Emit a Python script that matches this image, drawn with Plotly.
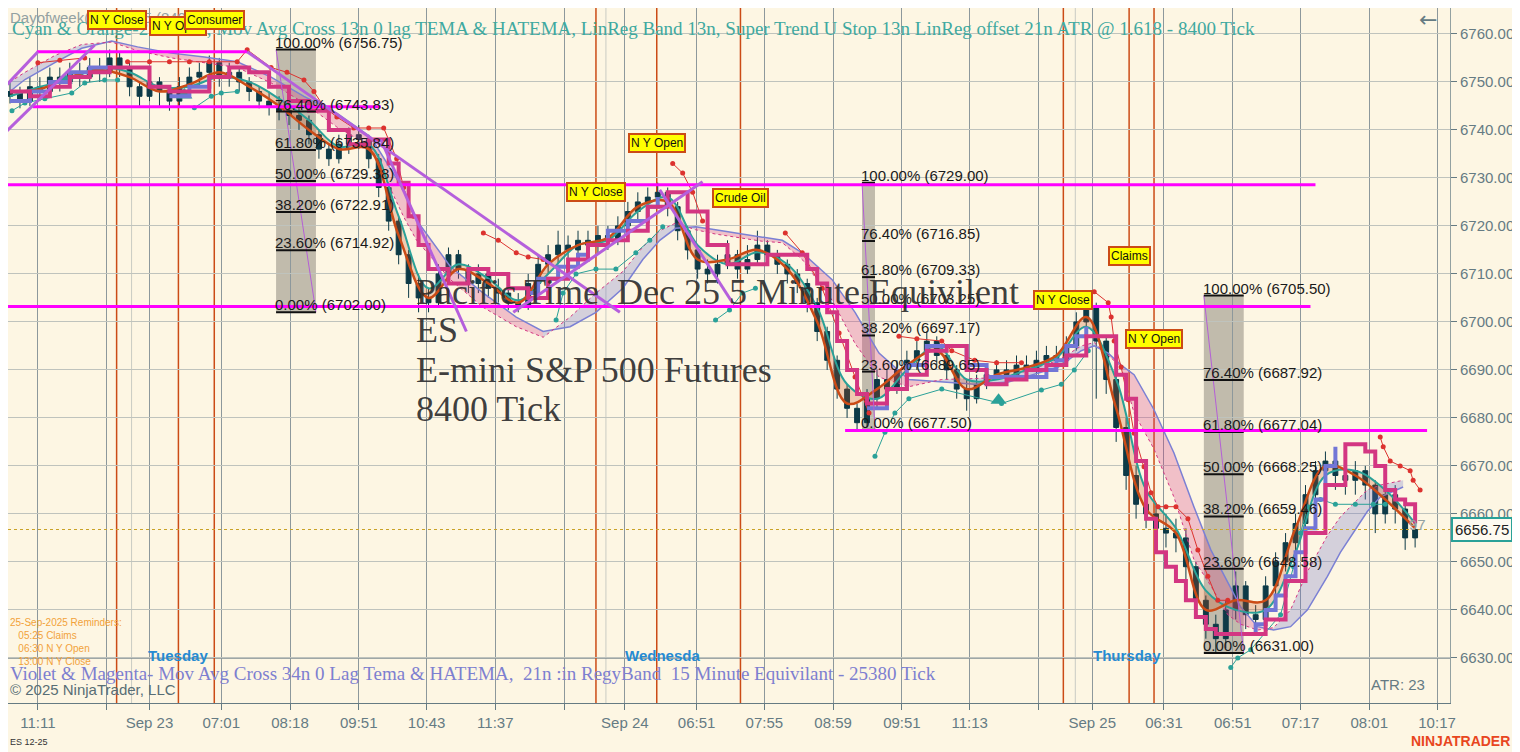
import plotly.graph_objects as go

# ---------------- data ----------------
# ES 12-25, 8400 tick bars (one bar every ~10 px in the picture)
first_open = 6747
close = [
    6748, 6746, 6749, 6748, 6751, 6750, 6752, 6751, 6753, 6752,
    6755, 6753, 6749, 6747, 6750, 6748, 6746, 6749, 6751, 6752,
    6754, 6751, 6752, 6750, 6748, 6746, 6745, 6744, 6743, 6742,
    6739, 6736, 6734, 6737, 6739, 6738, 6734, 6728, 6721, 6714,
    6708, 6705, 6704, 6710, 6714, 6711, 6708, 6710, 6707, 6706,
    6704, 6703, 6708, 6712, 6714, 6716, 6715, 6717, 6716, 6718,
    6717, 6720, 6723, 6725, 6726, 6727, 6724, 6719, 6715, 6711,
    6710, 6712, 6714, 6711, 6713, 6716, 6714, 6712, 6710, 6708,
    6704, 6698, 6692, 6686, 6682, 6679, 6684, 6688, 6686, 6690,
    6692, 6694, 6696, 6693, 6690, 6686, 6684, 6687, 6689, 6690,
    6689, 6691, 6690, 6692, 6693, 6692, 6695, 6700, 6703, 6696,
    6688, 6678, 6668, 6662, 6660, 6657, 6656, 6655, 6649, 6642,
    6637, 6634, 6640, 6645, 6639, 6638, 6645, 6650, 6654, 6658,
    6664, 6669, 6671, 6668, 6667, 6669, 6666, 6660, 6664, 6661,
    6655, 6656.75,
]
high = [
    6750, 6749, 6751, 6751, 6753, 6753, 6754, 6754, 6755, 6755,
    6756.75, 6756, 6754, 6750, 6752, 6751, 6749, 6751, 6753, 6754,
    6755.5, 6755, 6754, 6753, 6751, 6749, 6748, 6747, 6746, 6745,
    6743, 6740, 6737, 6739, 6740.5, 6741, 6739, 6735, 6729, 6722,
    6715, 6710, 6707, 6712, 6715.5, 6715, 6712, 6712, 6711, 6709,
    6708, 6706, 6710, 6714, 6716, 6719, 6718, 6719, 6719, 6720,
    6720, 6722, 6725, 6727, 6728, 6729, 6728, 6725, 6720, 6716,
    6713, 6714, 6717, 6715, 6716, 6719, 6717, 6715, 6713, 6711,
    6709, 6705, 6699, 6693, 6687, 6683, 6686, 6690, 6690, 6692,
    6694, 6696, 6698, 6697, 6694, 6691, 6688, 6689, 6691, 6692,
    6692, 6693, 6693, 6694, 6695, 6695, 6697, 6702, 6705.5, 6704,
    6697, 6689, 6680, 6670, 6665, 6662, 6660, 6659, 6657, 6650,
    6643, 6639, 6642, 6648, 6646, 6641, 6647, 6652, 6656, 6660,
    6666, 6671, 6673, 6672, 6670, 6671, 6670, 6667, 6666, 6666,
    6662, 6658,
]
low = [
    6745.5, 6744.5, 6745, 6746, 6747, 6748, 6749, 6749, 6750, 6750,
    6751, 6751, 6747, 6745, 6746, 6745, 6744, 6745, 6748, 6749,
    6750, 6749, 6749, 6748, 6746, 6744.5, 6743, 6742, 6741, 6740,
    6737, 6734, 6732.5, 6733, 6735, 6736, 6732, 6726, 6719, 6712,
    6705, 6702, 6702, 6703, 6708, 6709, 6706, 6706, 6705, 6704,
    6702.5, 6702, 6702.5, 6707, 6710, 6712, 6713, 6713, 6714, 6714,
    6715, 6716, 6719, 6721, 6723, 6724, 6722, 6717, 6713, 6709,
    6708, 6708, 6711, 6709, 6710, 6712, 6712, 6710, 6708, 6706,
    6702, 6696, 6690, 6684, 6680, 6677.5, 6678, 6682, 6684, 6685,
    6688, 6690, 6692, 6691, 6688, 6684, 6681.5, 6683, 6686, 6688,
    6687, 6688, 6688, 6689, 6690, 6690, 6691, 6694, 6698, 6684,
    6685, 6675, 6665, 6659, 6657, 6654, 6653, 6652, 6646, 6639,
    6634, 6631, 6632, 6638, 6636, 6635, 6636, 6643, 6648, 6652,
    6656, 6662, 6667, 6665, 6664, 6664, 6663, 6656, 6658, 6658,
    6652.5, 6653,
]
open_ = [first_open] + close[:-1]
bar_x = list(range(len(close)))
last_price = 6656.75

# x axis labels (bar positions)
tick_pos = [2.8, 9.7, 14.0, 21.2, 28.1, 35.0, 41.8, 48.7, 55.6, 61.7, 68.9, 75.7,
            82.6, 89.5, 96.3, 103.2, 108.6, 115.8, 122.7, 129.5, 136.4, 143.2]
tick_txt = ["11:11", "", "Sep 23", "07:01", "08:18", "09:51", "10:43", "11:37", "",
            "Sep 24", "06:51", "07:55", "08:59", "09:51", "11:13", "", "Sep 25",
            "06:31", "06:51", "07:17", "08:01", "10:17"]
faint_grid = [12.2, 59.8, 106.9]

# slow LinReg band: violet (slow) and pink dotted (fast) edges
band_x = [0, 1.5, 4.5, 7.2, 10.2, 12.8, 16.2, 19.5, 22.8, 26.2, 29.5, 32.8, 36.2,
          39.5, 40.8, 44.2, 47.5, 50.8, 53.5, 56.2, 58.8, 61.5, 63.5, 65.2, 66.8,
          68.8, 70.8, 75.5, 77.5, 79.5, 82.5, 84.8, 87.2, 90.2, 93.5, 96.8, 100.2,
          105.2, 107.5, 108.8, 110.2, 111.5, 112.8, 114.8, 116.8, 118.8, 120.5,
          122.2, 123.5, 125.2, 126.8, 128.5, 130.2, 132.2, 133.5, 136.2, 137.5, 139.8]
band_slow = [6748, 6750.5, 6754, 6757, 6758.5, 6757.3, 6756, 6755.2, 6754.2, 6751,
             6747, 6743.5, 6738.5, 6727.5, 6721.2, 6711.5, 6706, 6701, 6698, 6699,
             6702, 6707, 6713, 6717, 6719.5, 6719.8, 6719.2, 6717.7, 6717, 6714.4,
             6708.8, 6702, 6693.5, 6688, 6687.5, 6687, 6687.5, 6690.6, 6694, 6695,
             6693.5, 6691, 6689, 6681.7, 6672.7, 6661.5, 6652.5, 6645.6, 6640.6,
             6636.5, 6635.8, 6636.5, 6640, 6647, 6652, 6660.5, 6663.5, 6665.6]
band_fast = [6750, 6752, 6755.5, 6757.8, 6758.3, 6756.5, 6755, 6754, 6753, 6749.8,
             6745.6, 6740.6, 6736.5, 6721.9, 6717, 6708.8, 6703, 6699, 6696.8, 6701,
             6706, 6710.5, 6715.6, 6719, 6720.6, 6719.2, 6718.3, 6716.8, 6716.5, 6713,
             6704.5, 6695.5, 6688.5, 6686.5, 6688, 6688.2, 6688.5, 6692, 6695, 6695.7,
             6693, 6690.6, 6681, 6673.5, 6663.5, 6650.5, 6645, 6639, 6637, 6635.8,
             6636.3, 6640, 6648, 6655.5, 6659.4, 6665, 6666, 6667]

# magenta HATEMA step line
hatema_x = [0, 2, 4, 6, 8, 10, 12, 14, 16, 18, 20, 22, 24, 26, 28, 30, 32, 34, 36,
            38, 39, 40, 41, 42, 44, 46, 48, 50, 52, 54, 56, 58, 60, 62, 64, 66, 68,
            70, 72, 74, 76, 78, 80, 81, 82, 83, 84, 85, 86, 88, 90, 92, 94, 96, 98,
            100, 102, 104, 106, 108, 110, 111, 112, 113, 114, 115, 116, 117, 118,
            119, 120, 121, 124, 126, 128, 130, 132, 134, 136, 137, 138, 139, 140, 141]
hatema_y = [6748, 6747, 6749, 6751, 6752, 6753, 6753, 6749, 6748, 6748, 6751, 6753,
            6752, 6749, 6746, 6744, 6740, 6737, 6738, 6733, 6729, 6722, 6716, 6711,
            6708, 6711, 6710, 6707, 6705, 6709, 6713, 6716, 6717, 6719, 6724, 6727,
            6723, 6716, 6712, 6712, 6714, 6714, 6711, 6708, 6702, 6696, 6690, 6685,
            6683, 6686, 6689, 6694, 6695, 6690, 6687, 6688, 6690, 6691, 6693, 6697,
            6697, 6689, 6684, 6671, 6659, 6652, 6649, 6646, 6642, 6638.5, 6636, 6635,
            6635, 6638, 6646, 6656, 6666, 6674.5, 6673, 6670, 6665, 6663, 6662, 6658]

# violet TEMA step line (rising legs)
tema_x = [0, 2, 4, 6, 8, 10, None, 16, 18, 20, 22, None,
          52, 53, 55, 57, 58, 60, 62, 64, 65, None,
          86, 88, 90, 92, 94, 96, 98, 100, 102, 104, 105, 106, 107, 108, None,
          124, 125, 126, 127, 128, 129, 130, 131, 132, 133]
tema_y = [6746, 6748, 6750, 6752, 6753, 6753.5, None, 6747, 6749, 6751, 6752, None,
          6706, 6709, 6711.5, 6714, 6716, 6719, 6721, 6724, 6726, None,
          6682, 6686, 6691, 6695, 6695, 6691, 6688.5, 6688.5, 6688.5, 6690, 6692,
          6695, 6697, 6699, None,
          6635, 6637, 6640, 6643, 6647, 6652, 6657, 6663, 6670, 6674]

# fast pair (orange / teal), every third bar
fast_x = list(range(0, 142, 3))
fast_orange = [6748, 6748.5, 6751, 6752.5, 6751, 6748, 6749.5, 6752, 6749, 6745,
               6740, 6736, 6736, 6718, 6705, 6711, 6708, 6704, 6712, 6716, 6717.5,
               6724, 6725, 6713, 6713, 6715, 6711, 6700, 6683, 6686, 6691, 6694,
               6686, 6689, 6690.5, 6693, 6701, 6682, 6661, 6656, 6640, 6642, 6642,
               6657, 6670, 6668, 6663, 6657]
fast_teal = [6747, 6749, 6750.5, 6753, 6752, 6749, 6749, 6751, 6750, 6746.5, 6742,
             6736.5, 6737, 6722, 6707, 6712, 6709, 6704.5, 6710, 6716, 6717, 6723,
             6726, 6716, 6712, 6714.5, 6712, 6703, 6687, 6684, 6690, 6695, 6688,
             6688, 6690, 6692.5, 6699, 6688, 6665, 6657, 6644, 6640, 6640, 6652,
             6668, 6669, 6665, 6658]

# Super Trend stops
red_stop_x = [2.8, 5, 7.5, None,
              11.8, 14, 16, 18, 20, 22.8, 23.8, 26.2, 27.8, 29.5, 30.5, 31.5, 32.8,
              34.5, 36, 37.5, 38.8, 39.5, 40.5, None,
              47.5, 49, 50.8, 52, 53.5, None,
              66.5, 67.5, 68.5, 69.5, None,
              77.8, 79.5, 81.5, 83.2, 84.8, 86.2, None,
              89.2, 91, 93.5, 94.5, 96.8, 99, 101.5, None,
              108.8, 110.2, 110.5, 110.8, 111.5, 112.2, 112.8, 113.8, 114.5, 115.2,
              116, 117, 118.2, 119.2, 120.2, 121.2, 122.2, None,
              137.5, 137.8, 138.5, 139.5, 140.5, 140.8, 141.5]
red_stop_y = [6754, 6754.5, 6755, None,
              6754.2, 6754.2, 6754.2, 6754.2, 6754.2, 6754.2, 6756.7, 6753, 6752,
              6750.4, 6748, 6744.8, 6742.7, 6740.4, 6740.4, 6740.4, 6734, 6728,
              6722, None,
              6718.5, 6717, 6714.4, 6713.5, 6713, None,
              6733, 6731, 6727, 6721, None,
              6718.5, 6714.4, 6707, 6697.7, 6688.5, 6681, None,
              6697, 6696.5, 6696, 6694, 6692, 6691.5, 6691.5, None,
              6706.3, 6704, 6701, 6696, 6690.6, 6683.8, 6676.8, 6669.8, 6664.4,
              6661.5, 6661.5, 6661.5, 6659, 6652.5, 6647, 6642, 6642, None,
              6676, 6674, 6671, 6670, 6669, 6667, 6665]
teal_stop_x = [0.2, 1.5, 3.5, 6.2, 7.5, 9.5, 10.8, None,
               18.5, 20.2, 21.2, 22.8, None,
               54.8, 55.5, 56.8, 58.8, 60.8, 62.8, 64.2, 65.5, None,
               70.8, 72.2, 73.5, 74.8, None,
               86.8, 87.8, 88.8, 90.2, 93.5, 99.5, 103.5, 105.5, 106.8, 108.2, None,
               122.5, 123.2, 124.5, 127.5, 128.8, 129.5, 130.2, 131.5, 133, 135,
               136.8, 138]
teal_stop_y = [6744, 6745.6, 6746.5, 6747.7, 6749.8, 6750.4, 6750.4, None,
               6744.6, 6747, 6747.7, 6748, None,
               6700.4, 6706, 6710, 6711, 6711, 6714.4, 6717, 6719.8, None,
               6700.4, 6702.5, 6706, 6707, None,
               6672, 6677, 6681, 6684, 6686, 6683, 6685.8, 6687, 6690, 6694, None,
               6628, 6630, 6631.7, 6639, 6649, 6656, 6661.5, 6663, 6662, 6662,
               6662, 6662]
signal_x = [5.5, 17.5, 99.2]
signal_y = [6750.4, 6747.3, 6683.7]

# drawn objects
level_price = [6756.3, 6744.8, 6728.6, 6703.2, 6677.4]
level_from = [2.7, 2.3, -0.5, -0.5, 83.8]
level_to = [23.8, 37.2, 131.0, 130.5, 142.2]
trend_lines = [  # (x0, y0, x1, y1)
    (-0.5, 6749.0, 2.8, 6756.3),
    (-0.5, 6739.4, 8.5, 6757.7),
    (23.8, 6756.3, 61.2, 6702.0),
    (37.2, 6738.0, 45.8, 6698.0),
    (50.5, 6702.0, 69.5, 6729.2),
    (65.2, 6727.5, 72.5, 6704.0),
]
fib_pct = ["100.00%", "76.40%", "61.80%", "50.00%", "38.20%", "23.60%", "0.00%"]
fib_left = [26.7, 85.5, 119.8]
fib_right = [30.7, 86.8, 123.8]
fib_levels = [
    [6756.75, 6743.83, 6735.84, 6729.38, 6722.91, 6714.92, 6702.00],
    [6729.00, 6716.85, 6709.33, 6703.25, 6697.17, 6689.65, 6677.50],
    [6705.50, 6687.92, 6677.04, 6668.25, 6659.46, 6648.58, 6631.00],
]
event_x = [10.7, 16.9, 20.5, 58.8, 64.9, 73.3, 105.7, 112.3, 114.8]
event_name = ["N Y Close", "N Y Open", "Consumer", "N Y Close", "N Y Open",
              "Crude Oil", "N Y Close", "Claims", "N Y Open"]
event_label_y = [6763.0, 6761.6, 6762.8, 6727.1, 6737.3, 6725.8, 6704.6, 6713.7, 6696.5]

# ---------------- styling ----------------
BG = "#fdf6e3"
BAR = "#0d3a47"
MAGENTA = "#d33682"
VIOLET = "#6c71c4"
ORANGE = "#cb4b16"
TEAL = "#2aa198"
RED = "#dc322f"
GREY = "#657b83"
SANS = "Liberation Sans, Arial, sans-serif"
SERIF = "Liberation Serif, Times New Roman, serif"

# the page puts the figure 8 px in from the top-left corner
OFF = 8
FIG_W, FIG_H = 1520 - OFF, 752 - OFF
M_R, M_B = 70, 49
W, H = FIG_W - M_R, FIG_H - M_B


def px(v):
    return (v - OFF) / W


def py(v):
    return 1 - (v - OFF) / H


fig = go.Figure()

# slow band: pink while falling, lavender while rising
runs = []
for k in range(len(band_x) - 1):
    falling = band_slow[k] + band_slow[k + 1] > band_fast[k] + band_fast[k + 1]
    if runs and runs[-1][2] == falling:
        runs[-1][1] = k + 1
    else:
        runs.append([k, k + 1, falling])
for s, e, falling in runs:
    fig.add_trace(go.Scatter(x=band_x[s:e + 1], y=band_fast[s:e + 1], mode="lines",
                             line=dict(width=0), hoverinfo="skip"))
    fig.add_trace(go.Scatter(x=band_x[s:e + 1], y=band_slow[s:e + 1], mode="lines",
                             line=dict(width=0), fill="tonexty", hoverinfo="skip",
                             fillcolor="rgba(211,54,130,0.28)" if falling else "rgba(108,113,196,0.28)"))
fig.add_trace(go.Scatter(x=band_x, y=band_slow, mode="lines", line=dict(color="#7b80d4", width=1.5)))
fig.add_trace(go.Scatter(x=band_x, y=band_fast, mode="lines", line=dict(color=MAGENTA, width=1, dash="dot")))

# bars
fig.add_trace(go.Candlestick(
    x=bar_x, open=open_, high=high, low=low, close=close, whiskerwidth=0,
    increasing=dict(line=dict(color=BAR, width=1), fillcolor=BAR),
    decreasing=dict(line=dict(color=BAR, width=1), fillcolor=BAR),
))

# fast pair
fig.add_trace(go.Scatter(x=fast_x, y=fast_teal, mode="lines", line=dict(color=TEAL, width=2, shape="spline")))
fig.add_trace(go.Scatter(x=fast_x, y=fast_orange, mode="lines", fill="tonexty",
                         fillcolor="rgba(203,75,22,0.25)", line=dict(color=ORANGE, width=2.5, shape="spline")))

# stops
fig.add_trace(go.Scatter(x=red_stop_x, y=red_stop_y, mode="lines+markers",
                         line=dict(color=RED, width=1), marker=dict(color=RED, size=5)))
fig.add_trace(go.Scatter(x=teal_stop_x, y=teal_stop_y, mode="lines+markers",
                         line=dict(color=TEAL, width=1), marker=dict(color=TEAL, size=5)))
fig.add_trace(go.Scatter(x=signal_x, y=signal_y, mode="markers",
                         marker=dict(color=TEAL, size=14, symbol="triangle-up")))

# step lines
fig.add_trace(go.Scatter(x=tema_x, y=tema_y, mode="lines", line=dict(color="#7276d6", width=4, shape="hv")))
fig.add_trace(go.Scatter(x=hatema_x, y=hatema_y, mode="lines", line=dict(color=MAGENTA, width=4, shape="hv")))

shapes = []
for xv in faint_grid:
    shapes.append(dict(type="line", xref="x", yref="paper", x0=xv, x1=xv, y0=0, y1=1,
                       line=dict(color="#c9cbc3", width=1), layer="below"))
shapes.append(dict(type="line", xref="paper", yref="y", x0=0, x1=1, y0=6630, y1=6630,
                   line=dict(color="#7f8c92", width=1.5), layer="below"))
for xv in event_x:
    shapes.append(dict(type="line", xref="x", yref="paper", x0=xv, x1=xv, y0=0, y1=1,
                       line=dict(color=ORANGE, width=1.5), layer="below"))
for x0, x1, lv in zip(fib_left, fib_right, fib_levels):
    shapes.append(dict(type="rect", xref="x", yref="y", x0=x0, x1=x1, y0=lv[-1], y1=lv[0],
                       fillcolor="rgba(110,105,95,0.42)", line=dict(width=0), layer="below"))
    shapes.append(dict(type="line", xref="x", yref="y", x0=x0, x1=x1, y0=lv[0], y1=lv[-1],
                       line=dict(color="#b45fd6", width=1)))
    for p in lv:
        shapes.append(dict(type="line", xref="x", yref="y", x0=x0, x1=x1, y0=p, y1=p,
                           line=dict(color="#111111", width=2)))
for p, a, b in zip(level_price, level_from, level_to):
    shapes.append(dict(type="line", xref="x", yref="y", x0=a, x1=b, y0=p, y1=p,
                       line=dict(color="#ff00ff", width=3)))
for x0, y0, x1, y1 in trend_lines:
    shapes.append(dict(type="line", xref="x", yref="y", x0=x0, y0=y0, x1=x1, y1=y1,
                       line=dict(color="#b55fdc", width=3)))
shapes.append(dict(type="line", xref="paper", yref="y", x0=0, x1=1, y0=last_price, y1=last_price,
                   line=dict(color="#c9a227", width=1.2, dash="dot")))

ann = []
# header lines
ann.append(dict(x=px(8), y=py(17), text="Dayofweek(ES 12-25 (8400 Tick))", font=dict(family=SANS, size=15, color="#93a1a1")))
ann.append(dict(x=px(10), y=py(29), text="Cyan & Orange-21n ATR, Mov Avg Cross 13n 0 lag TEMA & HATEMA, LinReg Band 13n, "
                "Super Trend U Stop 13n LinReg offset 21n ATR @ 1.618 - 8400 Tick",
                font=dict(family=SERIF, size=19, color="#3fa9a0")))
for name, xv, yv in zip(event_name, event_x, event_label_y):
    ann.append(dict(x=xv, y=yv, xref="x", yref="y", xanchor="center", text=name,
                    bgcolor="#ffff00", bordercolor=ORANGE, borderwidth=2, borderpad=1,
                    font=dict(family=SANS, size=12, color="#111111")))
for x0, lv in zip(fib_left, fib_levels):
    for pct, p in zip(fib_pct, lv):
        ann.append(dict(x=x0, y=p, xref="x", yref="y", xanchor="left", yanchor="bottom",
                        xshift=-3, yshift=-3, text=f"{pct} ({p:.2f})",
                        font=dict(family=SANS, size=15, color="#1a1a1a")))
# watermark
for text, yy in zip(["Pacific Time  Dec 25 5 Minute Equivilent", "ES", "E-mini S&P 500 Futures", "8400 Tick"],
                    [292, 330, 370, 409]):
    ann.append(dict(x=px(414), y=py(yy), text=text, font=dict(family=SERIF, size=36, color="rgba(45,45,45,0.92)")))
# footer texts
ann.append(dict(x=px(8), y=py(615), yanchor="top", align="left",
                text="25-Sep-2025 Reminders:<br>   05:25 Claims<br>   06:30 N Y Open<br>   13:00 N Y Close",
                font=dict(family=SANS, size=10, color="#f2a23a")))
for text, xx in zip(["Tuesday", "Wednesda", "Thursday"], [178, 662, 1127]):
    ann.append(dict(x=px(xx), y=py(655), xanchor="center", text=f"<b>{text}</b>",
                    font=dict(family=SANS, size=15, color="#268bd2")))
ann.append(dict(x=px(8), y=py(673), text="Violet & Magenta- Mov Avg Cross 34n 0 Lag Tema & HATEMA,  21n :in RegyBand  "
                "15 Minute Equivilant - 25380 Tick", font=dict(family=SERIF, size=19, color="#7d7fd0")))
ann.append(dict(x=px(8), y=py(689), text="© 2025 NinjaTrader, LLC", font=dict(family=SANS, size=15, color="#586e75")))
ann.append(dict(x=px(1398), y=py(684), xanchor="center", text="ATR: 23", font=dict(family=SANS, size=15, color=GREY)))
ann.append(dict(x=px(8), y=py(742), text="ES 12-25", font=dict(family=SANS, size=9, color="#333333")))
ann.append(dict(x=px(1512), y=py(741), xanchor="right", text="<b>NINJATRADER</b>",
                font=dict(family=SANS, size=14, color="#e8461e")))
ann.append(dict(x=px(1428), y=py(19), xanchor="center", text="←", font=dict(family="DejaVu Sans", size=22, color=GREY)))
ann.append(dict(x=px(1417), y=py(524), xanchor="center", text="97", font=dict(family=SANS, size=15, color="#93a1a1")))
ann.append(dict(x=px(1482), y=py(529), xanchor="center", text=f"{last_price:.2f}", bgcolor="#fdfaf0",
                bordercolor=TEAL, borderwidth=2, borderpad=2, font=dict(family=SANS, size=15, color="#222222")))
for a in ann:
    a.setdefault("xref", "paper")
    a.setdefault("yref", "paper")
    a.setdefault("xanchor", "left")
    a.setdefault("yanchor", "middle")
    a["showarrow"] = False

fig.update_layout(
    width=FIG_W, height=FIG_H, margin=dict(l=0, r=M_R, t=0, b=M_B),
    paper_bgcolor=BG, plot_bgcolor=BG, showlegend=False,
    shapes=shapes, annotations=ann, hovermode=False,
    xaxis=dict(range=[-0.2, 144.5], tickvals=tick_pos, ticktext=tick_txt, showgrid=True,
               gridcolor="#8d989c", gridwidth=1, zeroline=False, ticks="outside", ticklen=6,
               tickcolor=GREY, showline=True, linecolor=GREY, rangeslider=dict(visible=False),
               tickfont=dict(family=SANS, size=15, color=GREY)),
    yaxis=dict(range=[6620.6, 6765.4], side="right", tick0=6630, dtick=10, tickformat=".2f",
               showgrid=True, gridcolor="#bfc3bd", zeroline=False, ticks="outside", ticklen=6,
               tickcolor=GREY, showline=True, linecolor="#93a1a1",
               tickfont=dict(family=SANS, size=15, color=GREY)),
)

fig.write_html("out.html")
